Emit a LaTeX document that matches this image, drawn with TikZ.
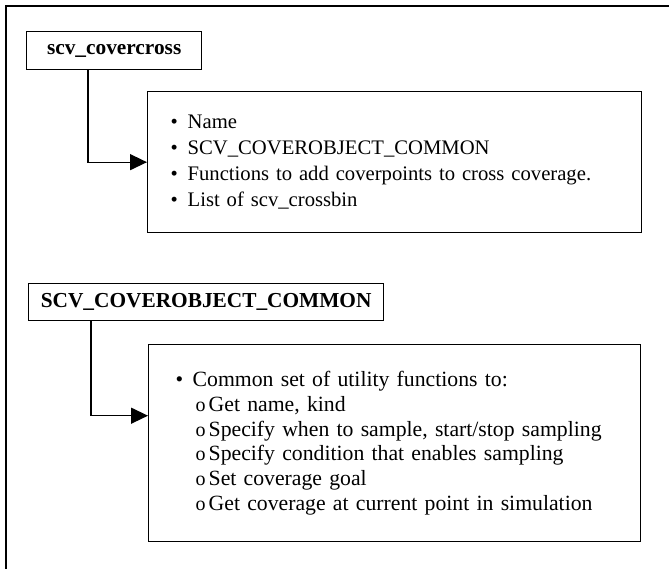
\documentclass[tikz,border=0pt]{standalone}
\usepackage{fontspec}
\setmainfont{Liberation Serif}
\usetikzlibrary{arrows.meta, positioning, calc}
\newcommand{\bul}{\makebox[12.75pt][l]{\textbullet}}
\newcommand{\subbul}{\hspace*{15pt}\makebox[9.75pt][l]{\fontsize{15}{15}\selectfont o}}

\begin{document}
\begin{tikzpicture}[x=0.75pt, y=-0.75pt,
    titlebox/.style={draw, line width=1pt, anchor=north west, inner sep=0pt,
      font=\fontsize{16}{19}\selectfont\bfseries},
    infobox/.style={draw, line width=1pt, anchor=north west, align=left, inner ysep=0pt},
    link/.style={line width=1pt, -{Triangle[length=12.75pt, width=12pt]}}]
  \useasboundingbox (0,0) rectangle (669,569);
  % outer frame, only top and left edge in view
  \draw[line width=1.5pt] (669,6) -- (6,6) -- (6,569);

  % upper pair
  \node[titlebox, minimum width=131.25pt, minimum height=28.5pt] (covercross) at (26,31)
    {scv\_covercross};
  \node[infobox, text width=336pt, inner xsep=17.25pt, minimum height=105.75pt,
        font=\fontsize{15.5}{19.5}\selectfont] (crossinfo) at (147,91) {
    \bul Name\\
    \bul SCV\_COVEROBJECT\_COMMON\\
    \bul Functions to add coverpoints to cross coverage.\\
    \bul List of scv\_crossbin};
  \draw[link] ([xshift=46.5pt]covercross.south west) |- (crossinfo.west);

  % lower pair
  \node[titlebox, minimum width=266.25pt, minimum height=27.75pt] (common) at (28,283)
    {SCV\_COVEROBJECT\_COMMON};
  \node[infobox, text width=328.5pt, inner xsep=20.25pt, minimum height=147.75pt,
        font=\fontsize{16.3}{18.5}\selectfont] (commoninfo) at (148,344) {
    \bul Common set of utility functions to:\\
    \subbul Get name, kind\\
    \subbul Specify when to sample, start/stop sampling\\
    \subbul Specify condition that enables sampling\\
    \subbul Set coverage goal\\
    \subbul Get coverage at current point in simulation};
  \draw[link] ([xshift=47.25pt]common.south west) |- ([yshift=20.6pt]commoninfo.west);
\end{tikzpicture}
\end{document}
